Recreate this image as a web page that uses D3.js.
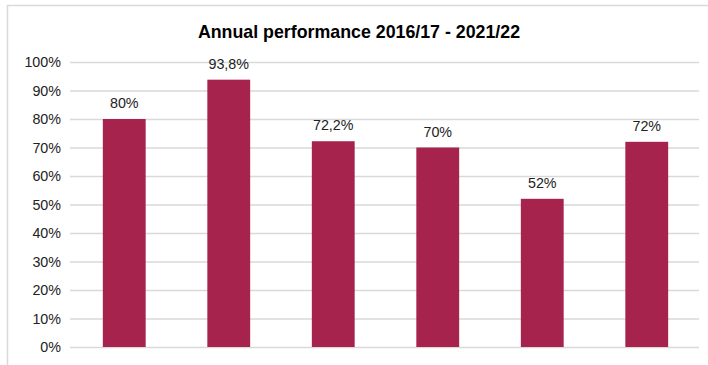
<!DOCTYPE html>
<html>
<head>
<meta charset="utf-8">
<script src="https://cdn.jsdelivr.net/npm/d3@7"></script>
<style>
  body { margin: 0; background: #fff; }
  text { font-family: "Liberation Sans", Arial, sans-serif; }
</style>
</head>
<body>
<script>
const categories = ['2016/17', '2017/18', '2018/19', '2019/20', '2020/21', '2021/22'];
const values = [80, 93.8, 72.2, 70, 52, 72];
const valueLabels = ['80%', '93,8%', '72,2%', '70%', '52%', '72%'];
const yTicks = [0, 10, 20, 30, 40, 50, 60, 70, 80, 90, 100];

window.onload = function () {

  const DM = {
    width: 708,
    height: 365,
    plot: { left: 72, right: 699, top: 62, bottom: 347 }
  };

  const SVG = d3.select('body')
                .append('svg')
                .attr('width', DM.width)
                .attr('height', DM.height);

  // chart frame (cropped at right/bottom)
  SVG.append('path')
     .attr('d', 'M7.5,' + DM.height + ' V5.5 H' + DM.width)
     .attr('fill', 'none')
     .attr('stroke', '#d9d9d9')
     .attr('stroke-width', 1.5);

  SVG.append('text')
     .attr('x', 359)
     .attr('y', 38)
     .attr('text-anchor', 'middle')
     .attr('font-size', 17.8)
     .attr('font-weight', 'bold')
     .attr('fill', '#000')
     .text('Annual performance 2016/17 - 2021/22');

  const xScale = d3.scaleBand()
                   .domain(categories)
                   .range([DM.plot.left, DM.plot.right])
                   .paddingInner(0.59)
                   .paddingOuter(0.295);

  const yScale = d3.scaleLinear()
                   .domain([0, 100])
                   .range([DM.plot.bottom, DM.plot.top]);

  const yAxis = d3.axisLeft(yScale)
                  .tickValues(yTicks)
                  .tickSize(-(DM.plot.right - DM.plot.left + 2))
                  .tickPadding(9)
                  .tickFormat(d => d + '%');

  const gy = SVG.append('g')
                .attr('transform', `translate(${DM.plot.left - 2},0)`)
                .call(yAxis);
  gy.select('.domain').remove();
  gy.selectAll('.tick line').attr('stroke', '#d9d9d9').attr('stroke-width', 1.3);
  gy.selectAll('.tick text')
    .attr('font-size', 14.3)
    .attr('fill', '#222')
    .attr('font-family', '"Liberation Sans", Arial, sans-serif');

  SVG.append('g')
     .selectAll('rect')
     .data(values)
     .join('rect')
     .attr('x', (d, i) => xScale(categories[i]))
     .attr('y', d => yScale(d))
     .attr('width', xScale.bandwidth())
     .attr('height', d => yScale(0) - yScale(d))
     .attr('fill', '#a6234e');

  SVG.append('g')
     .selectAll('text')
     .data(values)
     .join('text')
     .attr('x', (d, i) => xScale(categories[i]) + xScale.bandwidth() / 2)
     .attr('y', d => yScale(d) - 11)
     .attr('text-anchor', 'middle')
     .attr('font-size', 14.3)
     .attr('fill', '#222')
     .text((d, i) => valueLabels[i]);
}
</script>
</body>
</html>
